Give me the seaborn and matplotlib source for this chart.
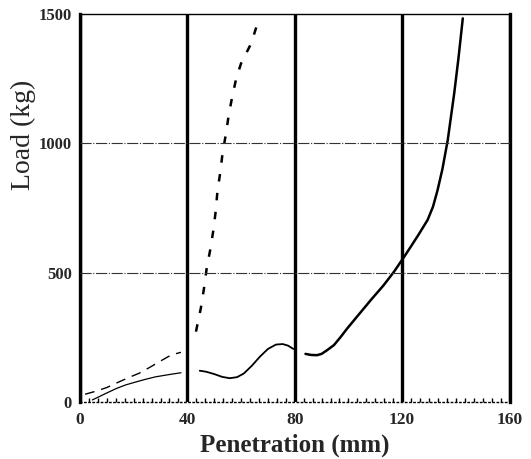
import matplotlib
matplotlib.use("Agg")
import matplotlib.pyplot as plt
import seaborn as sns
from matplotlib.ticker import MultipleLocator

# ---- data ----
dashA_x = [1.9, 6, 10, 14.6, 18, 22, 26, 29.6, 34, 37.6]
dashA_y = [30, 42, 56, 78, 94, 111, 134, 156, 182, 192]

dashB_x = [43.2, 45, 46.2, 47.2, 48.5, 49.7, 50.6, 51.2, 52.2, 53.1, 54.4, 55.4,
           56.7, 58.2, 60, 62, 63.8, 66.3]
dashB_y = [272, 362, 440, 517, 588, 665, 742, 815, 884, 961, 1039, 1109,
           1180, 1251, 1309, 1350, 1387, 1470]

solA_x = [4.6, 7, 10, 13.5, 17, 21, 24.5, 28, 32, 35, 37.6]
solA_y = [8, 20, 35, 52, 66, 78, 88, 97, 104, 109, 113]

solB_x = [44.6, 47, 50, 53, 55.8, 58.5, 61, 64, 67, 70, 73, 75.5, 77.5, 79.5]
solB_y = [121, 117, 108, 97, 92, 96, 110, 140, 175, 205, 222, 224, 218, 205]

solC_x = [84, 86, 88.3, 90, 92, 94.6, 97, 99.6, 104, 108.4, 113, 117, 120.8,
          123.2, 126, 129.5, 131.5, 133.2, 135, 137, 139.4, 141, 142.6]
solC_y = [186, 182, 181, 186, 200, 220, 250, 285, 340, 395, 450, 504, 562,
          600, 645, 704, 755, 819, 900, 1013, 1193, 1330, 1483]

x_ticks = [0, 40, 80, 120, 160]
y_ticks = [0, 500, 1000, 1500]

sns.set_theme(style="white")
plt.rcParams['font.family'] = ['Liberation Serif', 'DejaVu Serif']

fig = plt.figure(figsize=(5.31, 4.59), dpi=100)
ax = fig.add_axes([80/531, 57/459, 429.5/531, 388/459])

sns.lineplot(x=dashA_x, y=dashA_y, ax=ax, color='black', lw=1.0,
             linestyle=(0, (7, 5)))
sns.lineplot(x=dashB_x, y=dashB_y, ax=ax, color='black', lw=1.8,
             linestyle=(0, (3, 4.6)))
sns.lineplot(x=solA_x, y=solA_y, ax=ax, color='black', lw=0.9)
sns.lineplot(x=solB_x, y=solB_y, ax=ax, color='black', lw=1.3)
sns.lineplot(x=solC_x, y=solC_y, ax=ax, color='black', lw=1.8)

ax.set_xlim(0, 160)
ax.set_ylim(0, 1500)
ax.set_xticks(x_ticks)
ax.set_yticks(y_ticks)
ax.xaxis.set_minor_locator(MultipleLocator(40/12))

ax.grid(True, axis='x', color='black', lw=2.4)
ax.grid(True, axis='y', color='#333333', lw=0.8, linestyle=(0, (10, 1.5, 1, 1.5)))
ygl = ax.yaxis.get_gridlines()
ygl[0].set_visible(False)
ygl[-1].set_visible(False)
ax.set_axisbelow(False)

for s in ['left', 'right']:
    ax.spines[s].set_linewidth(2.4)
    ax.spines[s].set_color('black')
ax.spines['top'].set_linewidth(1.0)
ax.spines['top'].set_color('black')
ax.spines['bottom'].set_linewidth(1.0)
ax.spines['bottom'].set_color('black')
ax.spines['bottom'].set_linestyle((0, (1, 2)))

ax.tick_params(axis='x', which='major', direction='out', length=6, width=2.4,
               color='black', pad=1, labelsize=12.5)
ax.tick_params(axis='x', which='minor', direction='in', length=3, width=1,
               color='black', bottom=True)
ax.tick_params(axis='y', which='major', direction='out', length=3, width=1,
               color='black', pad=3, labelsize=12)
for lab in ax.get_xticklabels() + ax.get_yticklabels():
    lab.set_fontweight('bold')

ax.set_xlabel('Penetration (mm)', fontsize=18, fontweight='bold', labelpad=4)
ax.set_ylabel('Load (kg)', fontsize=20)
ax.yaxis.set_label_coords(-0.103, 0.688)

fig.savefig('out.png', dpi=100)
